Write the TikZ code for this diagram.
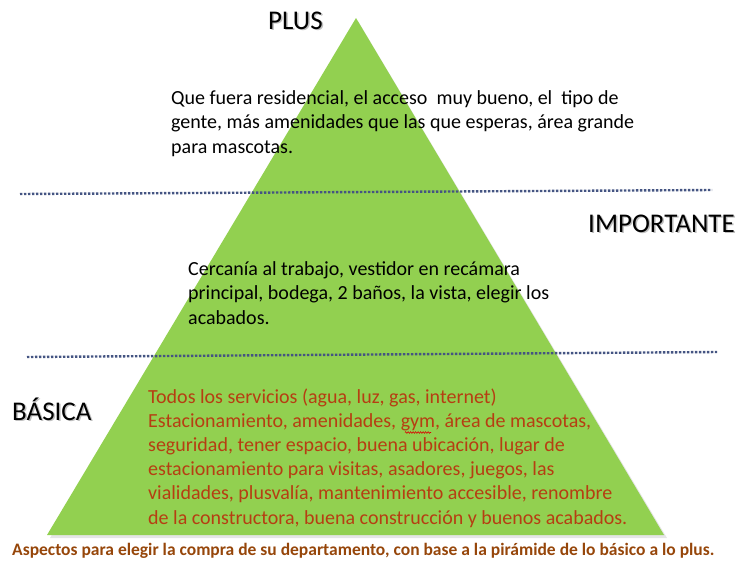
\documentclass[tikz,border=0pt]{standalone}
\usepackage{fontspec}
\setmainfont{Carlito}
\usetikzlibrary{decorations.pathmorphing}
\definecolor{pyrgreen}{RGB}{146,208,80}
\definecolor{dotblue}{RGB}{68,84,130}
\definecolor{basred}{RGB}{182,62,18}
\definecolor{capbrown}{RGB}{150,70,10}
\tikzset{
  levellabel/.style={anchor=base west, inner sep=0pt, font=\fontsize{27}{29}\selectfont},
  labelshadow/.style={levellabel, text=black!25},
  bodytext/.style={anchor=base west, inner sep=0pt, align=left, font=\fontsize{20}{24.2}\selectfont},
  sepline/.style={dotblue, line width=2.4pt, dash pattern=on 2.3pt off 1.7pt}
}
\begin{document}
\begin{tikzpicture}[x=1pt,y=-1pt]
\useasboundingbox (0,0) rectangle (739,566);
\fill[black!10] (358,21) -- (667,538) -- (50,538) -- cycle;
\fill[pyrgreen] (356,18) coordinate (apex) -- (664,535) coordinate (br) -- (47,535) coordinate (bl) -- cycle;
\coordinate (l1a) at (20,194); \coordinate (l1b) at (712,190);
\coordinate (l2a) at (27,357); \coordinate (l2b) at (717,352);
\draw[sepline] (l1a) -- (l1b);
\draw[sepline] (l2a) -- (l2b);
\node[labelshadow] (plusS) at (269.5,30.5) {PLUS};
\node[labelshadow] (impS) at (589.5,233.5) {IMPORTANTE};
\node[labelshadow] (basS) at (13.5,421.5) {BÁSICA};
\node[levellabel] (plus) at (268,29) {PLUS};
\node[levellabel] (imp) at (588,232) {IMPORTANTE};
\node[levellabel] (bas) at (12,420) {BÁSICA};
\node[bodytext] (t1) at (171,153) {Que fuera residencial, el acceso~ muy bueno, el~ tipo de\\gente, más amenidades que las que esperas, área grande\\para mascotas.};
\node[bodytext] (t2) at (188,324) {Cercanía al trabajo, vestidor en recámara\\principal, bodega, 2 baños, la vista, elegir los\\acabados.};
\node[bodytext, text=basred] (t3) at (148,524) {Todos los servicios (agua, luz, gas, internet)\\Estacionamiento, amenidades, gym, área de mascotas,\\seguridad, tener espacio, buena ubicación, lugar de\\estacionamiento para visitas, asadores, juegos, las\\vialidades, plusvalía, mantenimiento accesible, renombre\\de la constructora, buena construcción y buenos acabados.};
\coordinate (sq1) at (405,432.5); \coordinate (sq2) at (431,432.5);
\draw[red!85!black, line width=0.6pt, decorate, decoration={zigzag, amplitude=0.8pt, segment length=2.5pt}] (sq1) -- (sq2);
\node[anchor=base west, inner sep=0pt, text=capbrown, font=\bfseries\fontsize{17.5}{19}\selectfont] (cap) at (12,555) {Aspectos para elegir la compra de su departamento, con base a la pirámide de lo básico a lo plus.};
\end{tikzpicture}
\end{document}
